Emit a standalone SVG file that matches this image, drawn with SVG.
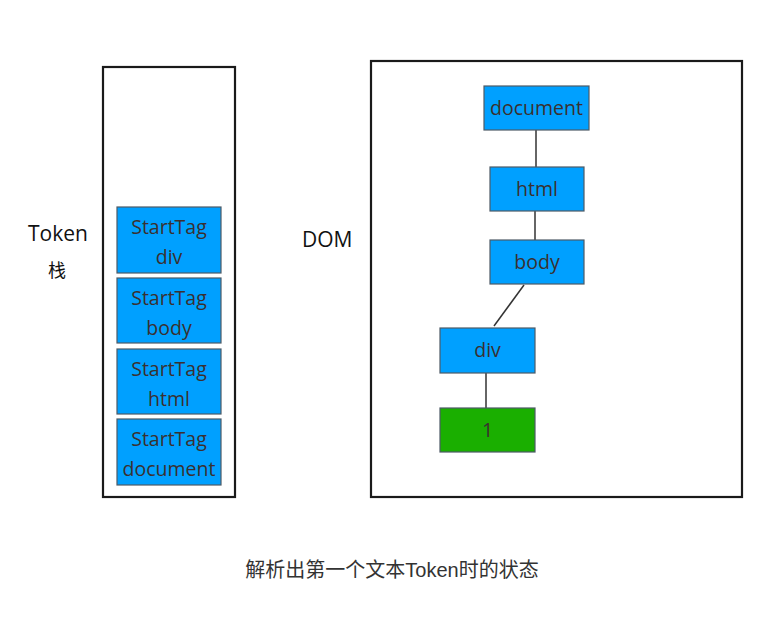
<svg xmlns="http://www.w3.org/2000/svg" width="769" height="621" viewBox="0 0 769 621">
<style>
.frame{fill:none;stroke:#1a1a1a;stroke-width:2.2}
.blue{fill:#00a0ff;stroke:#4d5a66;stroke-width:1.2}
.green{fill:#1aaf00;stroke:#4d5a66;stroke-width:1.2}
.t{font-family:"Open Sans","Liberation Sans",sans-serif;font-size:19.5px;fill:#3a3030;text-anchor:middle}
.lbl{font-family:"Open Sans","Liberation Sans","Noto Sans CJK SC",sans-serif;font-size:21px;fill:#111}
.cap{font-family:"Liberation Sans","Noto Sans CJK SC",sans-serif;font-size:20px;fill:#333;text-anchor:middle}
.conn{stroke:#333;stroke-width:1.5;fill:none}
</style>
<rect width="769" height="621" fill="#fff"/>
<rect class="frame" x="103" y="67" width="132" height="430"/>
<rect class="frame" x="371" y="61" width="371" height="436"/>
<text class="lbl" x="28" y="241">Token</text>
<text class="lbl" x="48" y="277" style="font-size:18px">栈</text>
<text class="lbl" x="302" y="247">DOM</text>
<g id="stack-div"><rect class="blue" x="117" y="207" width="104" height="66"/><text class="t" x="169" y="234">StartTag</text><text class="t" x="169" y="264">div</text></g>
<g id="stack-body"><rect class="blue" x="117" y="278" width="104" height="65"/><text class="t" x="169" y="305">StartTag</text><text class="t" x="169" y="335">body</text></g>
<g id="stack-html"><rect class="blue" x="117" y="349" width="104" height="65"/><text class="t" x="169" y="376">StartTag</text><text class="t" x="169" y="406">html</text></g>
<g id="stack-document"><rect class="blue" x="117" y="419" width="104" height="66"/><text class="t" x="169" y="446">StartTag</text><text class="t" x="169" y="476">document</text></g>
<g id="connectors">
<line class="conn" x1="536" y1="130" x2="536" y2="167"/>
<line class="conn" x1="535" y1="211" x2="535" y2="240"/>
<line class="conn" x1="524" y1="285" x2="494" y2="326"/>
<line class="conn" x1="486" y1="373" x2="486" y2="408"/>
</g>
<g id="dom-document"><rect class="blue" x="484" y="86" width="105" height="44"/><text class="t" x="536.5" y="115">document</text></g>
<g id="dom-html"><rect class="blue" x="490" y="167" width="94" height="44"/><text class="t" x="537" y="196">html</text></g>
<g id="dom-body"><rect class="blue" x="490" y="240" width="94" height="44"/><text class="t" x="537" y="269">body</text></g>
<g id="dom-div"><rect class="blue" x="440" y="328" width="95" height="45"/><text class="t" x="487.5" y="357">div</text></g>
<g id="dom-text"><rect class="green" x="440" y="408" width="95" height="44"/><text class="t" x="487.5" y="437">1</text></g>
<text class="cap" x="392" y="577">解析出第一个文本Token时的状态</text>
</svg>
